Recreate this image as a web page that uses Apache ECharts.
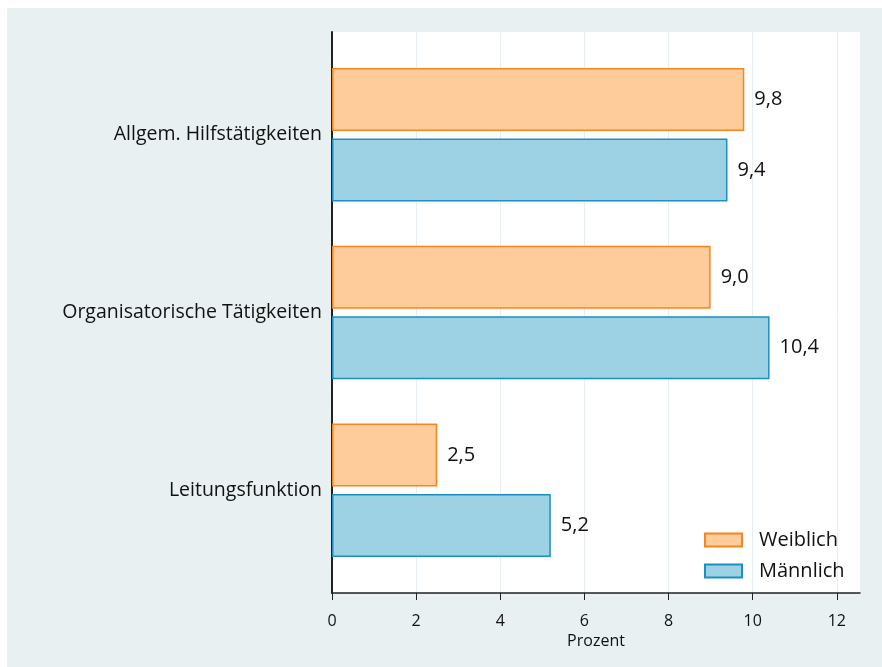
<!DOCTYPE html>
<html>
<head>
<meta charset="utf-8">
<script src="https://cdn.jsdelivr.net/npm/echarts@6/dist/echarts.min.js"></script>
<style>
    html, body { margin: 0; padding: 0; background: #fff; }
    #chart { position: absolute; left: 7px; top: 8px; width: 875px; height: 659px; }
</style>
</head>
<body>
<div id="chart"></div>
<script>
'use strict';

// Kategorien (von oben nach unten)
var categories = ['Allgem. Hilfstätigkeiten', 'Organisatorische Tätigkeiten', 'Leitungsfunktion'];
var weiblich = [9.8, 9.0, 2.5];
var maennlich = [9.4, 10.4, 5.2];
var xTicks = [0, 2, 4, 6, 8, 10, 12];
var xMax = 12.55;

var font = 'Open Sans';
var chart = echarts.init(document.getElementById('chart'));

function komma(p) {
    return p.value.toFixed(1).replace('.', ',');
}

var option = {
    backgroundColor: '#e8f0f2',
    animation: false,
    textStyle: { fontFamily: font },
    legend: {
        orient: 'vertical',
        left: 697,
        top: 522,
        padding: 0,
        icon: 'rect',
        itemWidth: 37,
        itemHeight: 13,
        itemGap: 11,
        textStyle: { fontSize: 20, color: '#111', fontFamily: font, padding: [0, 0, 0, 12] },
        data: ['Weiblich', 'Männlich']
    },
    grid: [
        // weisse Zeichenfläche mit Achsen
        { left: 325, right: 22, top: 24, bottom: 74, show: true, backgroundColor: '#fff', borderWidth: 0 },
        // Balkenbereich (etwas eingerückt)
        { left: 325, right: 22, top: 38, bottom: 88 }
    ],
    xAxis: [
        {
            gridIndex: 0, type: 'value', min: 0, max: xMax,
            name: 'Prozent', nameLocation: 'middle', nameGap: 35,
            nameTextStyle: { fontSize: 16, color: '#111', fontFamily: font },
            axisLine: { show: true, lineStyle: { color: '#222', width: 1.5 } },
            axisTick: { show: true, length: 7, customValues: xTicks, lineStyle: { color: '#222' } },
            axisLabel: { customValues: xTicks, margin: 20, fontSize: 16, color: '#111', fontFamily: font },
            splitLine: { show: true, lineStyle: { color: '#e6eef1', width: 1 } }
        },
        { gridIndex: 1, type: 'value', min: 0, max: xMax, show: false }
    ],
    yAxis: [
        {
            gridIndex: 0, type: 'value', min: 0, max: 1,
            axisLine: { show: true, lineStyle: { color: '#222', width: 2 } },
            axisTick: { show: false }, axisLabel: { show: false }, splitLine: { show: false }
        },
        {
            gridIndex: 1, type: 'category', inverse: true, data: categories,
            axisLine: { show: false }, axisTick: { show: false },
            axisLabel: { margin: 10, fontSize: 19.5, color: '#111', fontFamily: font, padding: [6, 0, 0, 0] }
        }
    ],
    series: [
        {
            name: 'Weiblich', type: 'bar', xAxisIndex: 1, yAxisIndex: 1,
            data: weiblich, barWidth: 63, barGap: '12%',
            itemStyle: { color: '#fecc9a', borderColor: '#f5861f', borderWidth: 1.5 },
            label: { show: true, position: 'right', distance: 10, fontSize: 20, color: '#111', fontFamily: font, padding: [4, 0, 0, 0], formatter: komma }
        },
        {
            name: 'Männlich', type: 'bar', xAxisIndex: 1, yAxisIndex: 1,
            data: maennlich, barWidth: 63,
            itemStyle: { color: '#9dd2e4', borderColor: '#1b8fbf', borderWidth: 1.5 },
            label: { show: true, position: 'right', distance: 10, fontSize: 20, color: '#111', fontFamily: font, padding: [4, 0, 0, 0], formatter: komma }
        }
    ]
};

chart.setOption(option);
</script>
</body>
</html>
